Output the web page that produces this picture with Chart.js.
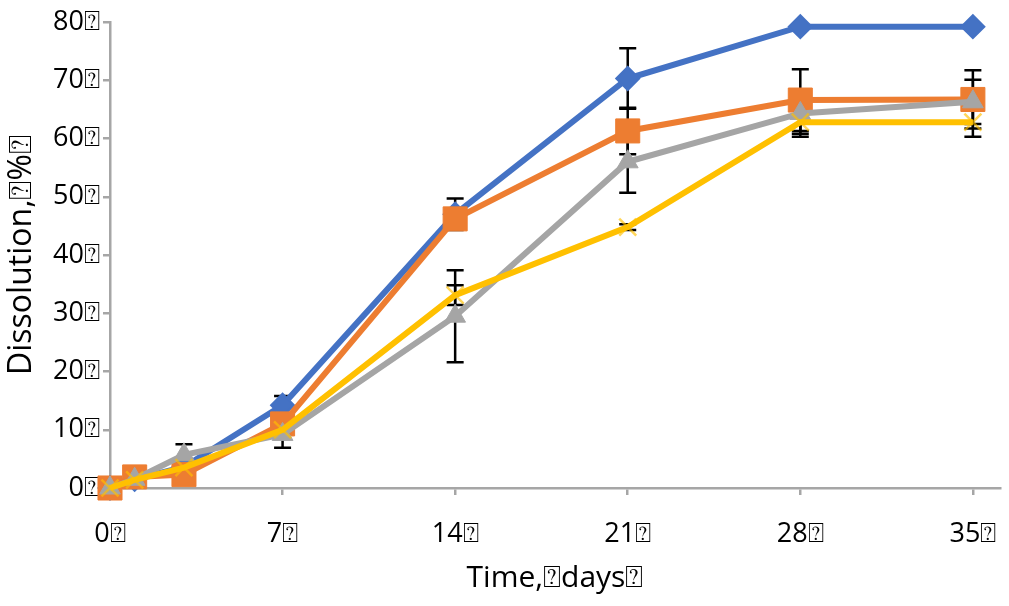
<!DOCTYPE html>
<html>
<head>
<meta charset="utf-8">
<script src="https://cdn.jsdelivr.net/npm/chart.js@4"></script>
<style>
html,body{margin:0;padding:0;background:#fff;}
#wrap{width:1009px;height:606px;position:relative;}
</style>
</head>
<body>
<div id="wrap"><canvas id="c" width="1009" height="606"></canvas></div>
<script>
const days = [0, 1, 3, 7, 14, 21, 28, 35];
const blueValues = [0, 1.5, 3.6, 14.2, 47.0, 70.3, 79.2, 79.2];
const orangeValues = [0, 1.9, 2.3, 11.0, 46.2, 61.3, 66.6, 66.7];
const grayValues = [0, 1.5, 5.7, 9.2, 29.5, 56.0, 64.3, 66.3];
const yellowValues = [0, 1.4, 3.5, 10.0, 33.1, 44.8, 62.8, 62.8];
const blueErr = [0, 0, 0, 1.6, 2.7, 5.2, 0, 0];
const orangeErr = [0, 0, 0, 0, 0, 4.0, 5.3, 5.0];
const grayErr = [0, 0, 1.8, 2.3, 7.9, 5.3, 3.5, 3.8];
const yellowErr = [0, 0, 0, 0, 1.7, 0.5, 2.5, 2.5];
const xTickValues = [0, 7, 14, 21, 28, 35];
const yTickValues = [0, 10, 20, 30, 40, 50, 60, 70, 80];
const tofu = '\u2370';
const xTitle = 'Time,' + tofu + 'days' + tofu;
const yTitle = 'Dissolution,' + tofu + '%' + tofu;

function pts(vals, errs) {
  return days.map((d, i) => ({x: d, y: vals[i], err: errs[i]}));
}

const errorBars = {
  id: 'errorBars',
  beforeDatasetsDraw(chart) {
    const ctx = chart.ctx;
    const xs = chart.scales.x, ys = chart.scales.y;
    ctx.save();
    ctx.strokeStyle = '#000';
    ctx.lineWidth = 2.5;
    chart.data.datasets.forEach(ds => {
      ds.data.forEach(p => {
        if (!p.err) return;
        const px = xs.getPixelForValue(p.x);
        const t = ys.getPixelForValue(p.y + p.err);
        const b = ys.getPixelForValue(p.y - p.err);
        ctx.beginPath();
        ctx.moveTo(px, t); ctx.lineTo(px, b);
        ctx.moveTo(px - 8.5, t); ctx.lineTo(px + 8.5, t);
        ctx.moveTo(px - 8.5, b); ctx.lineTo(px + 8.5, b);
        ctx.stroke();
      });
    });
    ctx.restore();
  }
};

const base = {showLine: true, borderWidth: 6, clip: false, tension: 0};

new Chart(document.getElementById('c'), {
  type: 'line',
  data: {
    datasets: [
      Object.assign({}, base, {label: 'A', data: pts(blueValues, blueErr), borderColor: '#4472C4', backgroundColor: '#4472C4',
        pointStyle: 'rectRot', pointRadius: 11.5, pointBorderWidth: 2, pointBorderColor: '#4472C4', pointBackgroundColor: '#4472C4', order: 4}),
      Object.assign({}, base, {label: 'B', data: pts(orangeValues, orangeErr), borderColor: '#ED7D31', backgroundColor: '#ED7D31',
        pointStyle: 'rect', pointRadius: 17, pointBorderWidth: 1, pointBorderColor: '#ED7D31', pointBackgroundColor: '#ED7D31', order: 3}),
      Object.assign({}, base, {label: 'C', data: pts(grayValues, grayErr), borderColor: '#A5A5A5', backgroundColor: '#A5A5A5',
        pointStyle: 'triangle', pointRadius: 12, pointBorderWidth: 1, pointBorderColor: '#A5A5A5', pointBackgroundColor: '#A5A5A5', order: 2}),
      Object.assign({}, base, {label: 'D', data: pts(yellowValues, yellowErr), borderColor: '#FFC000', backgroundColor: '#FFC000',
        pointStyle: 'crossRot', pointRadius: 12, pointBorderWidth: 2.5, pointBorderColor: 'rgba(255,192,0,0.65)', pointBackgroundColor: '#FFC000', order: 1})
    ]
  },
  options: {
    responsive: false,
    animation: false,
    events: [],
    layout: {autoPadding: false, padding: {top: 22, right: 9, left: 0, bottom: 0}},
    plugins: {legend: {display: false}, tooltip: {enabled: false}},
    scales: {
      x: {
        type: 'linear', min: 0, max: 36.1,
        afterBuildTicks(s) { s.ticks = xTickValues.map(v => ({value: v})); },
        afterFit(s) { s.height = 118; s.paddingRight = 0; s.paddingLeft = 0; },
        ticks: {color: '#000', font: {family: 'Open Sans', size: 27}, padding: 23, maxRotation: 0, autoSkip: false,
          callback: v => v + tofu},
        grid: {drawOnChartArea: false, drawTicks: true, tickLength: 7, color: '#A6A6A6', lineWidth: 2.5},
        border: {display: true, color: '#A6A6A6', width: 2.5},
        title: {display: true, text: xTitle, color: '#000', font: {family: 'Open Sans', size: 30}, padding: {top: 0, bottom: 10}}
      },
      y: {
        type: 'linear', min: 0, max: 80,
        afterBuildTicks(s) { s.ticks = yTickValues.map(v => ({value: v})); },
        afterFit(s) { s.width = 110; },
        ticks: {color: '#000', font: {family: 'Open Sans', size: 27}, padding: 3, autoSkip: false,
          callback: v => v + tofu},
        grid: {drawOnChartArea: false, drawTicks: true, tickLength: 7, color: '#A6A6A6', lineWidth: 2.5},
        border: {display: true, color: '#A6A6A6', width: 2.5},
        title: {display: true, text: yTitle, color: '#000', font: {family: 'Open Sans', size: 32}, padding: {top: 3, bottom: 0}}
      }
    }
  },
  plugins: [errorBars]
});
</script>
</body>
</html>
